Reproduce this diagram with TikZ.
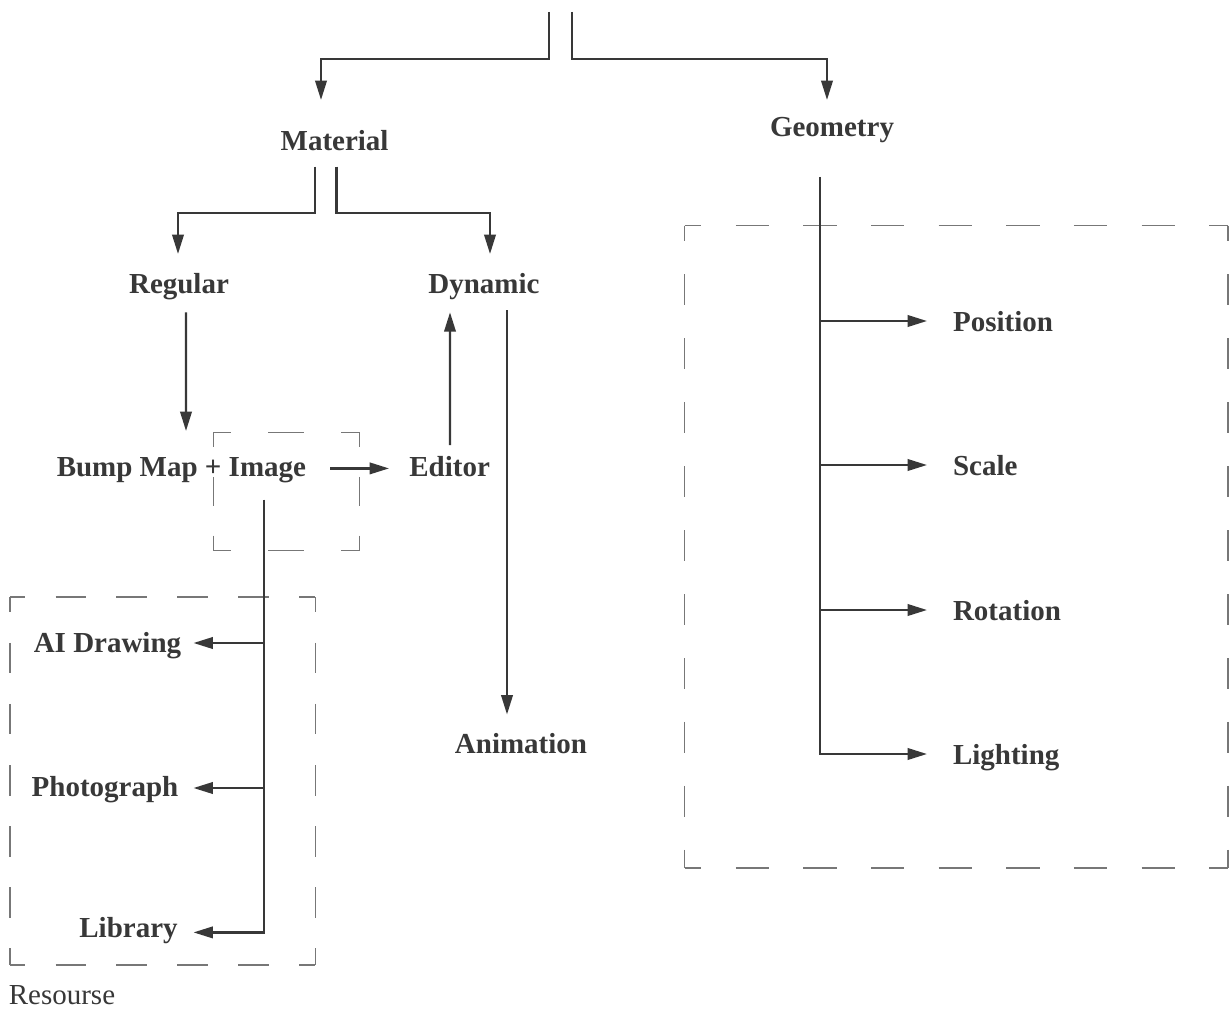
\documentclass[tikz,border=0pt]{standalone}
\usepackage{fontspec}
\setmainfont{Liberation Serif}
\usetikzlibrary{calc,arrows.meta}

\definecolor{ink}{HTML}{383838}
\definecolor{dashgray}{HTML}{777777}

% caja discontinua: esquinas (#1,#2)-(#3,#4), trazos horizontales #5/#6, verticales #7/#8
\newcommand{\groupbox}[8]{%
    \draw[dbox={#5}{#6}] (#1,#2) -- (#3,#2);
    \draw[dbox={#5}{#6}] (#1,#4) -- (#3,#4);
    \draw[dbox={#7}{#8}] (#1,#2) -- (#1,#4);
    \draw[dbox={#7}{#8}] (#3,#2) -- (#3,#4);
}

\begin{document}
\begin{tikzpicture}[
    x=0.02cm, y=-0.02cm,
    font=\fontsize{16.5}{20}\selectfont,
    >={Triangle[length=11pt,width=6.5pt]},
    lbl/.style={font=\fontsize{16.5}{20}\selectfont\bfseries, text=ink, inner sep=0pt},
    arr/.style={->, draw=ink, line width=1.3pt},
    dbox/.style 2 args={draw=dashgray, line width=0.75pt, dash pattern=on #1 off #2, dash phase=0.5*#1}
]
\fill[white] (0,0) rectangle (1230,1010);
\useasboundingbox (0,0) rectangle (1230,1010);

% =========================================================================
% 1. LABELS (placed on their baselines)
% =========================================================================
\node[lbl, anchor=base] (mat)   at (334.6,150.7) {Material};
\node[lbl, anchor=base] (geo)   at (832,136.7)   {Geometry};
\node[lbl, anchor=base] (reg)   at (179,293.3)   {Regular};
\node[lbl, anchor=base] (dyn)   at (484,293.3)   {Dynamic};
\node[lbl, anchor=base] (bump)  at (181.4,476)   {Bump Map + Image};
\node[lbl, anchor=base] (edit)  at (449.6,476)   {Editor};
\node[lbl, anchor=base] (anim)  at (521,753.5)   {Animation};

% Resource side
\node[lbl, anchor=base] (aidraw) at (107.5,652)  {AI Drawing};
\node[lbl, anchor=base] (photo)  at (105,796.5)  {Photograph};
\node[lbl, anchor=base] (lib)    at (128.5,937)  {Library};
\node[anchor=base west, text=ink, inner sep=0pt] (res) at (8.5,1004) {Resourse};

% Geometry side
\node[lbl, anchor=base west] (pos)   at (952.7,331) {Position};
\node[lbl, anchor=base west] (scl)   at (952.7,475) {Scale};
\node[lbl, anchor=base west] (rot)   at (952.7,620) {Rotation};
\node[lbl, anchor=base west] (light) at (952.7,764) {Lighting};

% =========================================================================
% 2. DASHED GROUPS
% =========================================================================
\groupbox{213.4}{432.4}{359.7}{550.4}{20.3pt}{21.2pt}{16.4pt}{17.05pt}
\groupbox{10}{597}{315.4}{965}{17.3pt}{17.33pt}{17.38pt}{17.39pt}
\groupbox{684.7}{225.7}{1228}{868}{18.9pt}{19.6pt}{17.5pt}{18.9pt}

% =========================================================================
% 3. CONNECTORS
% =========================================================================
% Entradas desde arriba
\coordinate (topL) at (549,12);
\coordinate (topR) at (572,12);
\draw[arr] (topL) -- ++(0,47) -| ($(mat.base)+(-13.6,-50.7)$);
\draw[arr] (topR) -- ++(0,47) -| ($(geo.base)+(-5,-36.7)$);

% Material -> Regular / Dynamic
\draw[arr] ($(mat.base)+(-19.6,16)$) -- ++(0,46.6) -| ($(reg.base)+(-1,-39.3)$);
\draw[arr] ($(mat.base)+(1.8,16)$) -- ++(0,46.6) -| ($(dyn.base)+(6,-39.3)$);

% Regular -> Bump Map, Dynamic -> Animation, Editor -> Dynamic
\draw[arr] ($(reg.base)+(7,19)$) -- ($(bump.base)+(4.6,-45)$);
\draw[arr] ($(dyn.base)+(23,17)$) -- ($(anim.base)+(-14,-39)$);
\draw[arr] ($(edit.base)+(0.4,-31)$) -- ($(dyn.base)+(-34,19)$);
\draw[arr] ($(bump.base)+(148.6,-7.6)$) -- ($(edit.base)+(-60.6,-7.6)$);

% Image -> resources
\coordinate (imgOut) at ($(bump.base)+(82.6,23.6)$);
\coordinate (aiIn)    at ($(aidraw.base)+(86,-9)$);
\coordinate (photoIn) at ($(photo.base)+(88.5,-8.5)$);
\coordinate (libIn)   at ($(lib.base)+(65,-4.6)$);
\draw[arr] (imgOut) |- (libIn);
\draw[arr] (imgOut |- aiIn) -- (aiIn);
\draw[arr] (imgOut |- photoIn) -- (photoIn);

% Geometry -> transforms
\coordinate (geoOut) at ($(geo.base)+(-12,40.3)$);
\draw[arr] (geoOut) |- ($(light.base west)+(-25.7,-10)$);
\foreach \n in {pos,scl,rot}
    \draw[arr] ($(geoOut |- \n.base west)+(0,-10)$) -- ($(\n.base west)+(-25.7,-10)$);

\end{tikzpicture}
\end{document}
